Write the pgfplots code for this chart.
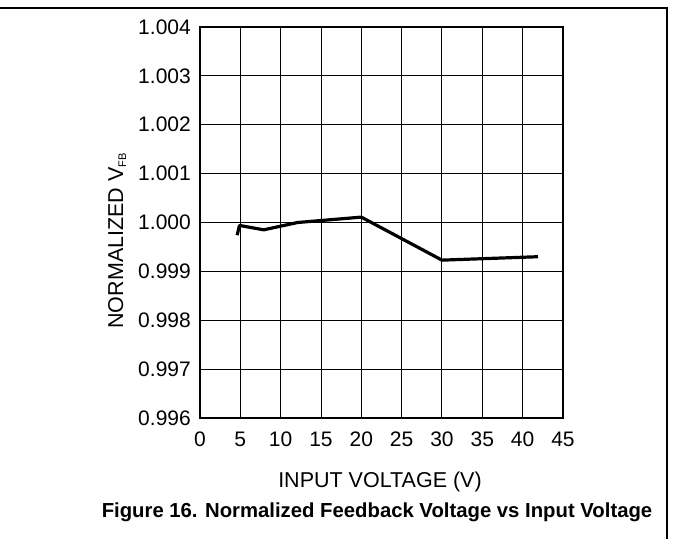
\documentclass[border=0pt]{standalone}
\usepackage{fontspec}
\setmainfont{Liberation Sans}
\usepackage{pgfplots}
\pgfplotsset{compat=1.18}
\begin{document}
\begin{tikzpicture}[x=1pt,y=1pt]
\useasboundingbox (0,0) rectangle (673,539);
\draw[line width=1.6pt] (0,531) -- (667,531) -- (667,0);
\begin{axis}[
  scale only axis,
  width=363pt, height=391pt,
  at={(200pt,121pt)}, anchor=south west,
  xmin=0, xmax=45, ymin=0.996, ymax=1.004,
  xtick={0,5,...,45},
  ytick={0.996,0.997,...,1.004},
  grid=major,
  major grid style={black, line width=1pt},
  axis line style={black, line width=1.8pt},
  major tick length=0pt,
  /pgf/number format/assume math mode=true,
  yticklabel style={/pgf/number format/fixed, /pgf/number format/fixed zerofill, /pgf/number format/precision=3, font=\fontsize{21}{24}\selectfont, inner sep=0pt, anchor=east, xshift=-9pt},
  xticklabel style={font=\fontsize{21}{24}\selectfont, inner sep=0pt, anchor=north, text height=15pt, text depth=0pt, yshift=-13pt},
]
\addplot[black, line width=3.2pt, line join=round] coordinates {
(4.6,0.99974) (4.9,0.99994) (7.9,0.99985) (12.1,1.00000) (20,1.00011) (30,0.99923) (41.9,0.99930)
};
\end{axis}
\node[rotate=90, font=\fontsize{21.5}{24}\selectfont] at (117,298) {NORMALIZED V\raisebox{-3pt}{\fontsize{11}{11}\selectfont FB}};
\node[font=\fontsize{21.5}{24}\selectfont] at (380,57) {INPUT VOLTAGE (V)};
\node[font=\fontsize{20.3}{22}\selectfont\bfseries] at (377,27) {Figure 16. Normalized Feedback Voltage vs Input Voltage};
\end{tikzpicture}
\end{document}
